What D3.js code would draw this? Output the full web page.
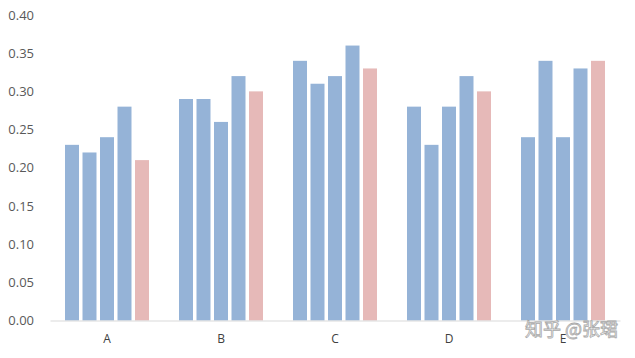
<!DOCTYPE html>
<html><head><meta charset="utf-8">
<script src="https://cdn.jsdelivr.net/npm/d3@7"></script>
<style>body{margin:0;background:#fff}svg{display:block}</style>
</head><body>
<svg id="c" width="635" height="358"></svg>
<script>
const categories = ["A","B","C","D","E"];
const seriesNames = ["s1","s2","s3","s4","s5"];
const s1 = [0.23,0.29,0.34,0.28,0.24];
const s2 = [0.22,0.29,0.31,0.23,0.34];
const s3 = [0.24,0.26,0.32,0.28,0.24];
const s4 = [0.28,0.32,0.36,0.32,0.33];
const s5 = [0.21,0.30,0.33,0.30,0.34];
const yTicks = [0,0.05,0.10,0.15,0.20,0.25,0.30,0.35,0.40];
const seriesColors = ["#95b3d7","#95b3d7","#95b3d7","#95b3d7","#e6b9b8"];

const svg = d3.select("#c");
const x0 = d3.scaleBand().domain(categories).range([50,620]);
const x1 = d3.scaleBand().domain(seriesNames).range([15,99]).paddingInner(0.2);
const y = d3.scaleLinear().domain([0,0.40]).range([320.5,15]);
const allSeries = [s1,s2,s3,s4,s5];

const yAxis = d3.axisLeft(y).tickValues(yTicks).tickFormat(d3.format(".2f")).tickSize(0).tickPadding(0);
const gy = svg.append("g").attr("transform","translate(34,0)").call(yAxis);
gy.select(".domain").remove();
gy.selectAll("text").attr("fill","#595959").style("font-family","'Open Sans',sans-serif").style("font-size","13px");

const groups = svg.selectAll("g.cat").data(categories).join("g").attr("class","cat")
  .attr("transform",d=>`translate(${x0(d)},0)`);
groups.selectAll("rect").data((c,i)=>seriesNames.map((s,j)=>({s,j,v:allSeries[j][i]}))).join("rect")
  .attr("x",d=>x1(d.s)).attr("width",x1.bandwidth())
  .attr("y",d=>y(d.v)).attr("height",d=>y(0)-y(d.v))
  .attr("fill",d=>seriesColors[d.j]);

const xAxis = d3.axisBottom(x0).tickSize(0).tickPadding(14);
const gx = svg.append("g").attr("transform",`translate(0,${y(0)})`).call(xAxis);
gx.select(".domain").attr("stroke","#d9d9d9");
gx.selectAll("text").attr("fill","#404040").style("font-family","'Open Sans',sans-serif").style("font-size","12px");

svg.append("text").attr("x",618).attr("y",336).attr("text-anchor","end")
  .style("font-family","'Noto Sans CJK SC',sans-serif").style("font-size","18px")
  .attr("fill","#ffffff").attr("stroke","#a0a0a0").attr("stroke-width",0.8).attr("opacity",0.9)
  .text("知乎 @张珺");
</script>
</body></html>
